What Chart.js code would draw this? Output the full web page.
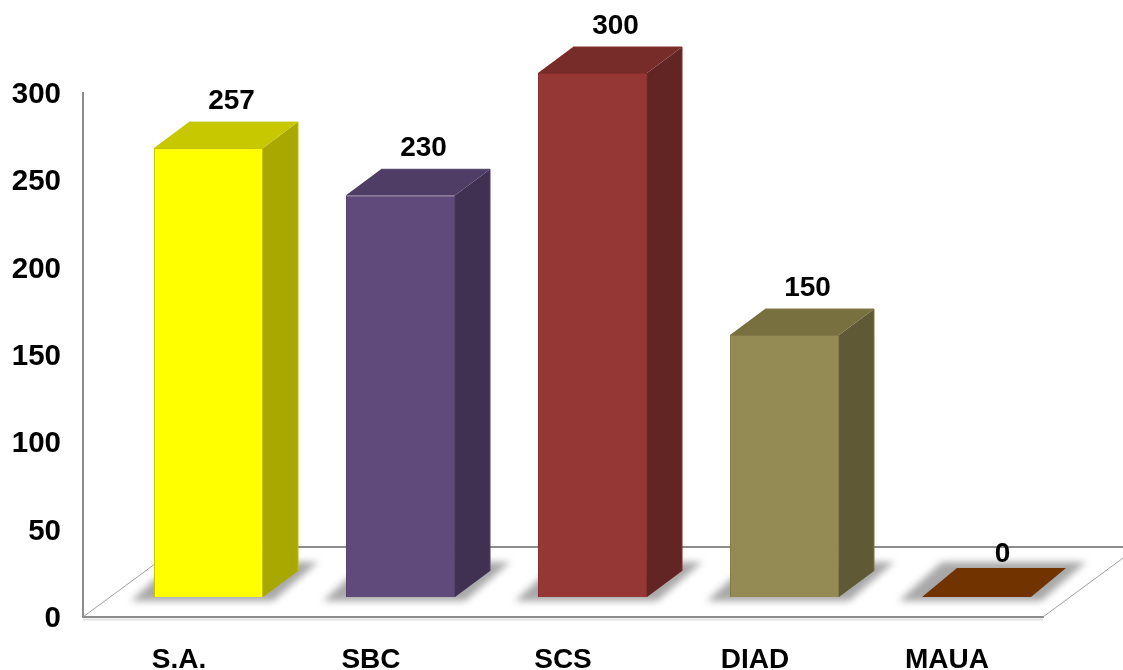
<!DOCTYPE html>
<html><head><meta charset="utf-8">
<script src="https://cdn.jsdelivr.net/npm/chart.js@4"></script>
<style>html,body{margin:0;padding:0;background:#fff;overflow:hidden}canvas{display:block}</style>
</head><body><canvas id="c" width="1123" height="670"></canvas>
<script>
const categories = ['S.A.', 'SBC', 'SCS', 'DIAD', 'MAUA'];
const values = [257, 230, 300, 150, 0];
const frontColors = ['#FFFF00', '#604A7B', '#953735', '#948A54', '#713400'];
const sideColors = ['#A8A800', '#403152', '#632523', '#5F5935', '#713400'];
const topColors = ['#C8C800', '#4F3D66', '#772C2A', '#78703F', '#713400'];
const edgeColors = ['#C4C400', '#54416C', '#842F2D', '#837A49', '#713400'];
const FONT = 'bold 28px "Liberation Sans", Arial, sans-serif';
const SHIFT_X = 29.5, SHIFT_Y = -20, DEPTH_X = 35, DEPTH_Y = -26;
const AXIS = '#8C8C8C';

function poly(ctx, pts, fill) {
  ctx.beginPath();
  pts.forEach((p, i) => i ? ctx.lineTo(p[0], p[1]) : ctx.moveTo(p[0], p[1]));
  ctx.closePath();
  ctx.fillStyle = fill;
  ctx.fill();
}
function line(ctx, a, b, color, w) {
  ctx.beginPath();
  ctx.moveTo(a[0], a[1]);
  ctx.lineTo(b[0], b[1]);
  ctx.strokeStyle = color;
  ctx.lineWidth = w;
  ctx.stroke();
}
const bar3d = {
  id: 'bar3d',
  beforeDatasetsDraw(chart) {
    const { ctx, chartArea: a } = chart;
    const meta = chart.getDatasetMeta(0);
    ctx.save();
    // floor outline
    line(ctx, [a.left, a.bottom + 2.5], [a.right, a.bottom + 2.5], '#E2E2E2', 2);
    line(ctx, [a.left, a.bottom], [a.left + 95, a.bottom - 70], '#A0A0A0', 1);
    line(ctx, [a.right, a.bottom], [a.right + 95, a.bottom - 70], '#A0A0A0', 1);
    line(ctx, [a.left + 95, a.bottom - 70], [a.right + 95, a.bottom - 70], AXIS, 2);
    // floor shadows
    ctx.filter = 'blur(3.5px)';
    meta.data.forEach(b => {
      const x0 = b.x - b.width / 2 + SHIFT_X, x1 = b.x + b.width / 2 + SHIFT_X;
      const y0 = a.bottom + SHIFT_Y;
      poly(ctx, [[x0 - 23, y0 + 4], [x1 + 10, y0 + 4], [x1 + 55, y0 - 35], [x0 + 20, y0 - 35]], '#A8A8A8');
    });
    ctx.filter = 'none';
    // depth faces
    meta.data.forEach((b, i) => {
      const x0 = b.x - b.width / 2 + SHIFT_X, x1 = b.x + b.width / 2 + SHIFT_X;
      const top = b.y + SHIFT_Y, base = b.base + SHIFT_Y;
      const flat = base - top <= 0.5;
      const dy = flat ? DEPTH_Y - 3 : DEPTH_Y;
      if (!flat) {
        poly(ctx, [[x1, top], [x1 + DEPTH_X, top + dy], [x1 + DEPTH_X, base + dy], [x1, base]], sideColors[i]);
        line(ctx, [x1 + DEPTH_X, top + dy], [x1 + DEPTH_X, base + dy], edgeColors[i], 1);
      }
      poly(ctx, [[x0, top], [x0 + DEPTH_X, top + dy], [x1 + DEPTH_X, top + dy], [x1, top]], topColors[i]);
      if (!flat) {
        line(ctx, [x0 + DEPTH_X, top + dy], [x1 + DEPTH_X, top + dy], edgeColors[i], 1);
      }
    });
    ctx.restore();
  },
  beforeDatasetDraw(chart) {
    chart.ctx.save();
    chart.ctx.translate(SHIFT_X, SHIFT_Y);
  },
  afterDatasetDraw(chart) {
    chart.ctx.restore();
  },
  afterDatasetsDraw(chart) {
    const { ctx } = chart;
    const meta = chart.getDatasetMeta(0);
    ctx.save();
    ctx.font = FONT;
    ctx.fillStyle = '#000';
    ctx.textAlign = 'center';
    ctx.textBaseline = 'middle';
    meta.data.forEach((b, i) => {
      const flat = values[i] === 0;
      ctx.fillText(String(values[i]), b.x + SHIFT_X + (flat ? 26 : 23), b.y + SHIFT_Y - (flat ? 43 : 47));
    });
    ctx.restore();
  }
};
new Chart(document.getElementById('c'), {
  type: 'bar',
  data: {
    labels: categories,
    datasets: [{
      data: values,
      backgroundColor: frontColors,
      borderColor: edgeColors,
      borderWidth: 1,
      barPercentage: 0.568,
      categoryPercentage: 1,
      clip: false
    }]
  },
  options: {
    responsive: false,
    animation: false,
    layout: { padding: { left: 0, top: 93, right: 80, bottom: 0 } },
    plugins: { legend: { display: false }, title: { display: false }, tooltip: { enabled: false } },
    scales: {
      x: {
        afterFit: s => { s.height = 53; },
        grid: { display: false, drawTicks: false },
        border: { color: AXIS, width: 2 },
        ticks: {
          color: '#000', padding: 26, autoSkip: false, maxRotation: 0,
          font: { family: '"Liberation Sans", Arial, sans-serif', size: 28, weight: 'bold' }
        }
      },
      y: {
        min: 0, max: 300,
        afterFit: s => { s.width = 83; },
        grid: { display: false, drawTicks: false },
        border: { color: AXIS, width: 2 },
        ticks: {
          stepSize: 50, color: '#000', padding: 22, labelOffset: 2,
          font: { family: '"Liberation Sans", Arial, sans-serif', size: 29.5, weight: 'bold' }
        }
      }
    }
  },
  plugins: [bar3d]
});
</script></body></html>
